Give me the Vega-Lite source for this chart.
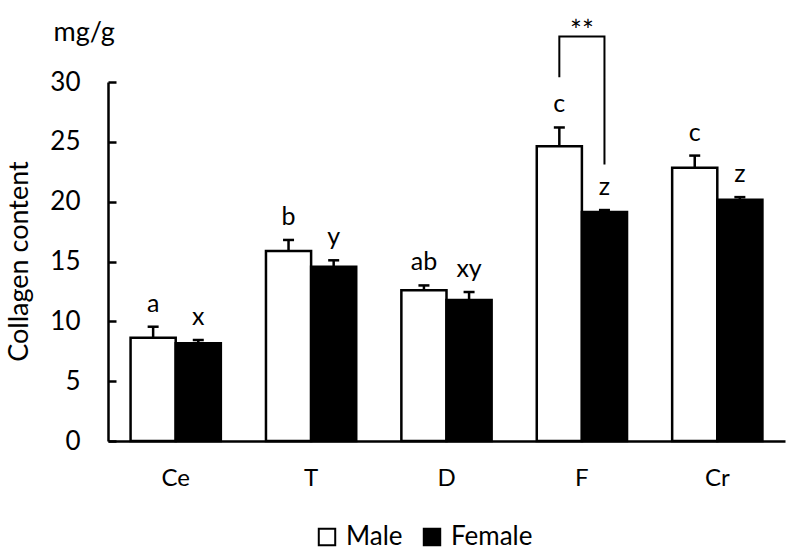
{
  "$schema": "https://vega.github.io/schema/vega-lite/v6.json",
  "width": 677,
  "height": 359,
  "autosize": {"type": "none"},
  "padding": {"left": 108, "top": 82, "right": 2, "bottom": 119},
  "background": "white",
  "config": {
    "view": {"stroke": null},
    "font": "Lato",
    "text": {"font": "Lato"}
  },
  "title": {
    "text": "Collagen content",
    "orient": "left",
    "anchor": "middle",
    "frame": "group",
    "offset": 16,
    "fontSize": 27,
    "fontWeight": "normal",
    "font": "Lato",
    "color": "black"
  },
  "datasets": {
    "bars": [
      {"site": "Ce", "sex": "Male", "mean": 8.63, "upper": 9.55, "letter": "a"},
      {"site": "Ce", "sex": "Female", "mean": 8.16, "upper": 8.44, "letter": "x"},
      {"site": "T", "sex": "Male", "mean": 15.87, "upper": 16.8, "letter": "b"},
      {"site": "T", "sex": "Female", "mean": 14.56, "upper": 15.1, "letter": "y"},
      {"site": "D", "sex": "Male", "mean": 12.6, "upper": 13.0, "letter": "ab"},
      {"site": "D", "sex": "Female", "mean": 11.78, "upper": 12.45, "letter": "xy"},
      {"site": "F", "sex": "Male", "mean": 24.64, "upper": 26.2, "letter": "c"},
      {"site": "F", "sex": "Female", "mean": 19.13, "upper": 19.3, "letter": "z"},
      {"site": "Cr", "sex": "Male", "mean": 22.83, "upper": 23.85, "letter": "c"},
      {"site": "Cr", "sex": "Female", "mean": 20.17, "upper": 20.38, "letter": "z"}
    ],
    "bracket": [
      {"site": "F", "sex": "Male", "value": 30.4, "seq": 1},
      {"site": "F", "sex": "Male", "value": 33.8, "seq": 2},
      {"site": "F", "sex": "Female", "value": 33.8, "seq": 3},
      {"site": "F", "sex": "Female", "value": 23.1, "seq": 4}
    ],
    "sig": [{"site": "F", "label": "**", "value": 33.8}]
  },
  "encoding": {
    "x": {
      "field": "site",
      "type": "nominal",
      "sort": ["Ce", "T", "D", "F", "Cr"],
      "scale": {"domain": ["Ce", "T", "D", "F", "Cr"], "paddingInner": 0.3333, "paddingOuter": 0.1667},
      "axis": {
        "title": null,
        "labelAngle": 0,
        "labelFontSize": 24,
        "labelColor": "black",
        "labelPadding": 25,
        "ticks": false,
        "domainColor": "black",
        "domainWidth": 2.5,
        "grid": false
      }
    }
  },
  "layer": [
    {
      "data": {"name": "bars"},
      "mark": {"type": "bar", "stroke": "black", "strokeWidth": 2.5},
      "encoding": {
        "xOffset": {"field": "sex", "type": "nominal", "sort": ["Male", "Female"], "scale": {"domain": ["Male", "Female"], "paddingInner": 0, "paddingOuter": 0}},
        "y": {
          "field": "mean",
          "type": "quantitative",
          "scale": {"domain": [0, 30], "nice": false},
          "axis": {
            "title": "mg/g",
            "titleAngle": 0,
            "titleAlign": "left",
            "titleBaseline": "alphabetic",
            "titleX": -55,
            "titleY": -42,
            "titleFontSize": 27,
            "titleFontWeight": "normal",
            "titleColor": "black",
            "values": [0, 5, 10, 15, 20, 25, 30],
            "labelFontSize": 26,
            "labelColor": "black",
            "labelPadding": 36,
            "tickSize": -8,
            "tickWidth": 2.5,
            "tickColor": "black",
            "domainColor": "black",
            "domainWidth": 2.5,
            "grid": false
          }
        },
        "fill": {
          "field": "sex",
          "type": "nominal",
          "sort": ["Male", "Female"],
          "scale": {"domain": ["Male", "Female"], "range": ["white", "black"]},
          "legend": {
            "title": null,
            "orient": "none",
            "direction": "horizontal",
            "legendX": 206,
            "legendY": 442,
            "symbolType": "square",
            "symbolSize": 270,
            "symbolStrokeColor": "black",
            "symbolStrokeWidth": 2,
            "labelFontSize": 26,
            "labelColor": "black",
            "labelOffset": 6,
            "columnPadding": 16
          }
        }
      }
    },
    {
      "data": {"name": "bars"},
      "mark": {"type": "rule", "stroke": "black", "strokeWidth": 2.5},
      "encoding": {
        "xOffset": {"field": "sex", "type": "nominal", "sort": ["Male", "Female"]},
        "y": {"field": "mean", "type": "quantitative"},
        "y2": {"field": "upper"}
      }
    },
    {
      "data": {"name": "bars"},
      "mark": {"type": "tick", "color": "black", "thickness": 2.5, "size": 11, "orient": "horizontal", "opacity": 1},
      "encoding": {
        "xOffset": {"field": "sex", "type": "nominal", "sort": ["Male", "Female"]},
        "y": {"field": "upper", "type": "quantitative"}
      }
    },
    {
      "data": {"name": "bars"},
      "mark": {"type": "text", "fontSize": 25, "color": "black", "baseline": "alphabetic", "dy": -15},
      "encoding": {
        "xOffset": {"field": "sex", "type": "nominal", "sort": ["Male", "Female"]},
        "y": {"field": "upper", "type": "quantitative"},
        "text": {"field": "letter"}
      }
    },
    {
      "data": {"name": "bracket"},
      "mark": {"type": "line", "color": "black", "strokeWidth": 2, "strokeCap": "butt", "strokeJoin": "miter"},
      "encoding": {
        "xOffset": {"field": "sex", "type": "nominal", "sort": ["Male", "Female"]},
        "y": {"field": "value", "type": "quantitative"},
        "order": {"field": "seq", "type": "quantitative"}
      }
    },
    {
      "data": {"name": "sig"},
      "mark": {"type": "text", "fontSize": 28, "color": "black", "baseline": "alphabetic", "dy": 4},
      "encoding": {
        "y": {"field": "value", "type": "quantitative"},
        "text": {"field": "label"}
      }
    }
  ]
}
